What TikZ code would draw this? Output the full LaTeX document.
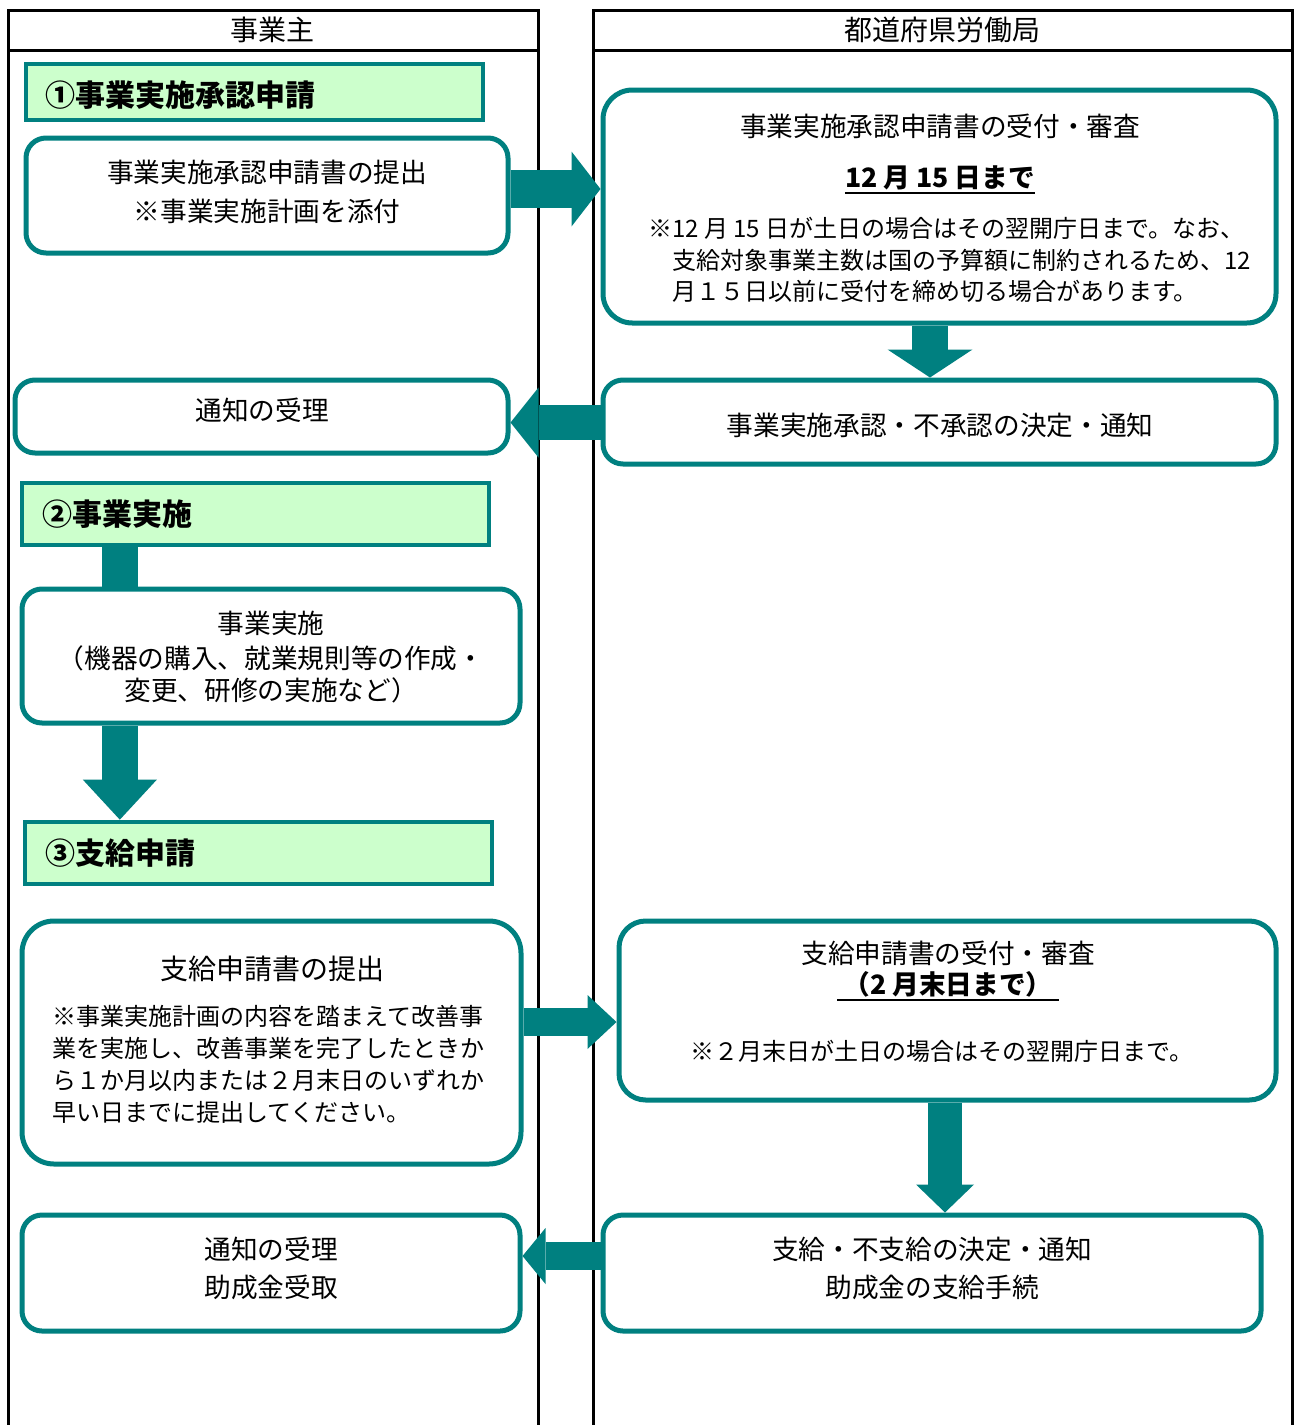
\documentclass[tikz,border=0pt]{standalone}
\usepackage{fontspec}
\setmainfont{Noto Sans CJK JP}
\usetikzlibrary{arrows.meta,calc}
\definecolor{tealc}{RGB}{0,128,128}
\definecolor{greenc}{RGB}{204,255,204}
\begin{document}
\begin{tikzpicture}[x=0.75pt,y=-0.75pt,
 lane/.style={line width=2.25pt,black},
 rbox/.style={draw=tealc,line width=3.75pt,rounded corners=15pt,fill=white,inner sep=0pt},
 gbox/.style={draw=tealc,line width=3pt,fill=greenc,inner sep=0pt},
 txt/.style={inner sep=0pt,font=\fontsize{20pt}{24pt}\selectfont},
 btxt/.style={inner sep=0pt,font=\fontsize{20pt}{24pt}\selectfont\bfseries},
 note/.style={inner sep=0pt,font=\fontsize{18pt}{22pt}\selectfont},
 ghead/.style={inner sep=0pt,anchor=west,font=\fontsize{22.5pt}{26pt}\selectfont\bfseries},
 arr/.style n args={3}{draw=tealc,line width=#1,-{Triangle[length=#2,width=#3,line width=0pt,fill=tealc]}},
 shaft/.style={draw=tealc,line width=#1},
]
\useasboundingbox (0,0) rectangle (1294,1425);
\fill[white] (0,0) rectangle (1294,1425);

% lanes
\draw[lane] (8,1427) -- (8,10) -- (538,10) -- (538,1427);
\draw[lane] (8,50) -- (538,50);
\draw[lane] (593,1427) -- (593,10) -- (1292,10) -- (1292,1427);
\draw[lane] (593,50) -- (1292,50);
\node[txt,font=\fontsize{21pt}{24pt}\selectfont] (h1) at (272,30) {事業主};
\node[txt,font=\fontsize{21pt}{24pt}\selectfont] (h2) at (942,30) {都道府県労働局};

% boxes
\node[gbox,minimum width=343pt,minimum height=42pt] (g1) at (254.5,92) {};
\node[rbox,minimum width=361.5pt,minimum height=86.25pt] (b2) at (267,195.5) {};
\node[rbox,minimum width=504.75pt,minimum height=174.75pt,rounded corners=22pt] (b3) at (939.5,206.5) {};
\node[rbox,minimum width=504.75pt,minimum height=63pt] (b4) at (939.5,422) {};
\node[rbox,minimum width=369.75pt,minimum height=54.75pt] (b5) at (261.5,416.5) {};
\node[gbox,minimum width=350.5pt,minimum height=47pt] (g2) at (255.5,514) {};
\node[rbox,minimum width=373.5pt,minimum height=100.5pt] (b6) at (271,656) {};
\node[gbox,minimum width=350.5pt,minimum height=47pt] (g3) at (258.5,853) {};
\node[rbox,minimum width=374.25pt,minimum height=182.25pt,rounded corners=24pt] (b7) at (271.5,1042.5) {};
\node[rbox,minimum width=492.75pt,minimum height=134.25pt,rounded corners=20pt] (b8) at (947.5,1010.5) {};
\node[rbox,minimum width=493.5pt,minimum height=87pt] (b9) at (932,1273) {};
\node[rbox,minimum width=373.5pt,minimum height=87pt] (b10) at (271,1273) {};

% arrows
\coordinate (a1s) at ($(b2.east)+(0,-6.5)$);
\draw[arr={28.5pt}{21.75pt}{56.25pt}] (a1s) -- (b3.west |- a1s);
\coordinate (a2s) at ($(b3.south)+(-9.5,0)$);
\draw[arr={27pt}{21pt}{63.75pt}] (a2s) -- (a2s |- b4.north);
\coordinate (a3s) at ($(b4.west)+(0,0.5)$);
\draw[arr={26.25pt}{21pt}{52.5pt}] (a3s) -- (b5.east |- a3s);
\coordinate (c1s) at ($(g2.south west)+(100,0)$);
\draw[shaft=27pt] (c1s) -- (c1s |- b6.north);
\coordinate (a4s) at (c1s |- b6.south);
\draw[arr={27pt}{30pt}{55.5pt}] (a4s) -- (a4s |- g3.north);
\coordinate (a5s) at ($(b7.east)+(0,-20.5)$);
\draw[arr={21pt}{21.75pt}{40.5pt}] (a5s) -- (b8.west |- a5s);
\coordinate (a6s) at ($(b8.south)+(-2.5,0)$);
\draw[arr={25.5pt}{21pt}{43.5pt}] (a6s) -- (a6s |- b9.north);
\coordinate (a7s) at ($(b9.west)+(0,-17)$);
\draw[arr={21pt}{17.25pt}{42pt}] (a7s) -- (b10.east |- a7s);

% texts
\node[ghead] (t1) at (45,95) {①事業実施承認申請};
\node[txt] (t2a) at (267,172) {事業実施承認申請書の提出};
\node[txt] (t2b) at (267,211) {※事業実施計画を添付};

\node[txt] (t3a) at (940,126) {事業実施承認申請書の受付・審査};
\node[btxt] (t3b) at (940,178) {12 月 15 日まで};
\draw[line width=1.5pt] ($(t3b.south west)+(0,3)$) -- ($(t3b.south east)+(0,3)$);
\node[note,anchor=west] (t3c) at (648,228) {※12 月 15 日が土日の場合はその翌開庁日まで。なお、};
\node[note,anchor=west] (t3d) at (672,260) {支給対象事業主数は国の予算額に制約されるため、12};
\node[note,anchor=west] (t3e) at (672,291) {月１５日以前に受付を締め切る場合があります。};

\node[txt] (t4) at (940,425) {事業実施承認・不承認の決定・通知};
\node[txt] (t5) at (262,410) {通知の受理};

\node[ghead] (tg2) at (42,514) {②事業実施};
\node[txt] (t6a) at (271,623) {事業実施};
\node[txt] (t6b) at (271,658) {（機器の購入、就業規則等の作成・};
\node[txt] (t6c) at (271,690) {変更、研修の実施など）};

\node[ghead] (tg3) at (45,853) {③支給申請};

\node[txt,font=\fontsize{21pt}{24pt}\selectfont] (t7a) at (272,969) {支給申請書の提出};
\node[note,anchor=west] (t7b) at (52,1016) {※事業実施計画の内容を踏まえて改善事};
\node[note,anchor=west] (t7c) at (52,1048) {業を実施し、改善事業を完了したときか};
\node[note,anchor=west] (t7d) at (52,1080) {ら１か月以内または２月末日のいずれか};
\node[note,anchor=west] (t7e) at (52,1112) {早い日までに提出してください。};

\node[txt] (t8a) at (948,953) {支給申請書の受付・審査};
\node[btxt] (t8b) at (948,984) {（2 月末日まで）};
\draw[line width=1.5pt] ($(t8b.south west)+(-6,3)$) -- ($(t8b.south east)+(6,3)$);
\node[note] (t8c) at (942,1051) {※２月末日が土日の場合はその翌開庁日まで。};

\node[txt] (t9a) at (932,1249) {支給・不支給の決定・通知};
\node[txt] (t9b) at (932,1287) {助成金の支給手続};
\node[txt] (t10a) at (271,1249) {通知の受理};
\node[txt] (t10b) at (271,1287) {助成金受取};
\end{tikzpicture}
\end{document}
